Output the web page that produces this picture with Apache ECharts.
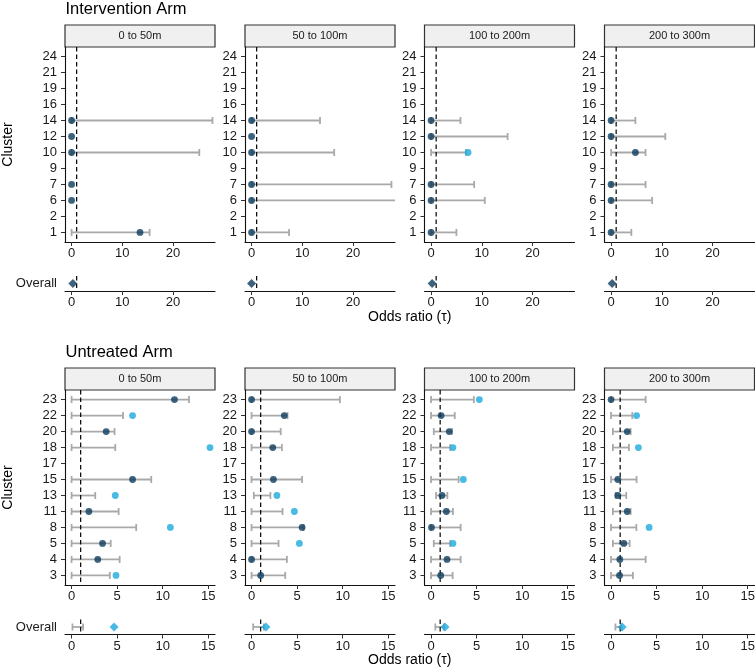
<!DOCTYPE html>
<html><head><meta charset="utf-8">
<script src="https://cdn.jsdelivr.net/npm/echarts@6/dist/echarts.min.js"></script>
<style>html,body{margin:0;padding:0;background:#fff}#c{width:755px;height:672px}</style>
</head><body><div id="c"></div>
<script>
// ---------- DATA ----------
const facetNames = ['0 to 50m', '50 to 100m', '100 to 200m', '200 to 300m'];
const xTicksInt = [0, 10, 20];
const xTicksUnt = [0, 5, 10, 15];
const refLine = 1;

// Intervention arm
const intClusters = ['24','21','19','16','14','12','10','9','7','6','2','1'];
const intEst0 = [null,null,null,null,0,0,0,null,0,0,null,13.5];
const intLo0  = [null,null,null,null,0,null,0,null,null,null,null,0];
const intHi0  = [null,null,null,null,27.8,null,25.2,null,null,null,null,15.4];
const intEst1 = [null,null,null,null,0,0,0,null,0,0,null,0];
const intLo1  = [null,null,null,null,0,null,0,null,0,0,null,0];
const intHi1  = [null,null,null,null,13.5,null,16.3,null,27.6,32,null,7.4];
const intEst2 = [null,null,null,null,0,0,7.3,null,0,0,null,0];
const intLo2  = [null,null,null,null,0,0,0,null,0,0,null,0];
const intHi2  = [null,null,null,null,5.8,15.1,6.9,null,8.5,10.6,null,5.0];
const intEst3 = [null,null,null,null,0,0,4.8,null,0,0,null,0];
const intLo3  = [null,null,null,null,0,0,0,null,0,0,null,0];
const intHi3  = [null,null,null,null,4.8,10.7,6.8,null,6.8,8.1,null,4.0];
const intOverallEst = [0.25, 0, 0.2, 0.2];
const intOverallLo  = [null, null, null, null];
const intOverallHi  = [null, null, null, null];

// Untreated arm
const untClusters = ['23','22','20','18','17','15','13','11','8','5','4','3'];
const untEst0 = [11.3,6.7,3.8,15.2,null,6.7,4.8,1.9,10.85,3.4,2.88,4.88];
const untLo0  = [0,0,0,0,null,0,0,0,0,0,0,0];
const untHi0  = [12.9,5.65,4.72,4.8,null,8.75,2.6,5.17,7.1,4.3,5.28,4.2];
const untEst1 = [0,3.6,0,2.33,null,2.4,2.78,4.7,5.55,5.25,0,1.0];
const untLo1  = [0,0,0,0,null,0,0.25,0,0,0,0,0];
const untHi1  = [9.7,3.95,3.2,3.33,null,5.55,2.07,3.4,5.7,2.96,3.88,3.7];
const untEst2 = [5.3,1.1,2.0,2.4,null,3.54,1.2,1.68,0.05,2.4,1.75,1.06];
const untLo2  = [0,0,0.3,0,null,0,0.55,0,0,0.3,0,0];
const untHi2  = [4.7,2.6,2.3,2.1,null,3.03,1.79,2.4,3.25,2.1,3.25,2.37];
const untEst3 = [0,2.8,1.78,3.0,null,0.74,0.74,1.78,4.18,1.4,0.96,0.93];
const untLo3  = [0,0,0.2,0.2,null,0,0.5,0.2,0,0.2,0,0];
const untHi3  = [3.8,2.33,2.15,1.96,null,2.8,1.67,2.15,2.78,2.04,3.8,2.4];
const untOverallEst = [4.67, 1.58, 1.53, 1.22];
const untOverallLo  = [0.1, 0.18, 0.47, 0.48];
const untOverallHi  = [1.27, 1.35, 1.4, 1.1];

// ---------- STYLE / LAYOUT ----------
const FONT = 'Liberation Sans';
const DARK = '#0b3b5c';
const LIGHT = '#1ba9dc';
const GRAY = '#a9a9a9';
const facetLeft = [65, 245, 424.5, 604.5];
const facetW = 150;

const arms = [
  {title: 'Intervention Arm', clusters: intClusters,
   est: [intEst0, intEst1, intEst2, intEst3], lo: [intLo0, intLo1, intLo2, intLo3], hi: [intHi0, intHi1, intHi2, intHi3],
   ovEst: intOverallEst, ovLo: intOverallLo, ovHi: intOverallHi, ticks: xTicksInt,
   xmin: -1.3, xmax: 28.3, titleY: 9.5, stripTop: 25, mainTop: 47, mainH: 195, ovTop: 276, ovH: 15, oddsY: 317},
  {title: 'Untreated Arm', clusters: untClusters,
   est: [untEst0, untEst1, untEst2, untEst3], lo: [untLo0, untLo1, untLo2, untLo3], hi: [untHi0, untHi1, untHi2, untHi3],
   ovEst: untOverallEst, ovLo: untOverallLo, ovHi: untOverallHi, ticks: xTicksUnt,
   xmin: -0.72, xmax: 15.75, titleY: 352, stripTop: 368, mainTop: 390, mainH: 195, ovTop: 619.5, ovH: 15, oddsY: 660}
];

function renderBar(params, api) {
  const lo = api.value(0), hi = api.value(1), y = api.value(2);
  const cs = params.coordSys;
  const p1 = api.coord([lo, y]), p2 = api.coord([hi, y]);
  const xl = cs.x, xr = cs.x + cs.width;
  const a = Math.max(p1[0], xl), b = Math.min(p2[0], xr);
  const st = {stroke: GRAY, lineWidth: 1.8};
  const ch = [{type: 'line', shape: {x1: a, y1: p1[1], x2: b, y2: p1[1]}, style: st}];
  if (p1[0] >= xl - 0.5) ch.push({type: 'line', shape: {x1: p1[0], y1: p1[1] - 3.5, x2: p1[0], y2: p1[1] + 3.5}, style: st});
  if (p2[0] <= xr + 0.5) ch.push({type: 'line', shape: {x1: p2[0], y1: p2[1] - 3.5, x2: p2[0], y2: p2[1] + 3.5}, style: st});
  return {type: 'group', children: ch};
}
function renderVLine(params, api) {
  const cs = params.coordSys;
  const p = api.coord([api.value(0), 0]);
  return {type: 'line', shape: {x1: p[0], y1: cs.y, x2: p[0], y2: cs.y + cs.height},
          style: {stroke: '#000', lineWidth: 1.2, lineDash: [4.5, 3]}};
}

const grid = [], xAxis = [], yAxis = [], series = [], graphic = [];

function addPanel(arm, f, isOverall) {
  const gi = grid.length;
  const top = isOverall ? arm.ovTop : arm.mainTop;
  const h = isOverall ? arm.ovH : arm.mainH;
  grid.push({left: facetLeft[f], top: top, width: facetW, height: h, containLabel: false, outerBoundsMode: 'none'});
  xAxis.push({
    type: 'value', gridIndex: gi, min: arm.xmin, max: arm.xmax,
    axisLine: {show: true, onZero: false, lineStyle: {color: '#111', width: 1.1}},
    axisTick: {show: true, customValues: arm.ticks, length: 4, lineStyle: {color: '#333'}},
    axisLabel: {customValues: arm.ticks, fontFamily: FONT, fontSize: 13, color: '#1a1a1a', margin: 5},
    splitLine: {show: false}
  });
  const n = arm.clusters.length;
  if (!isOverall) {
    const idx = arm.clusters.map((_, i) => i);
    yAxis.push({
      type: 'value', gridIndex: gi, min: -0.6, max: n - 1 + 0.6, inverse: true,
      axisLine: {show: true, onZero: false, lineStyle: {color: '#111', width: 1.1}},
      axisTick: {show: true, customValues: idx, length: 4, lineStyle: {color: '#333'}},
      axisLabel: {customValues: idx, formatter: v => arm.clusters[Math.round(v)] || '',
                  fontFamily: FONT, fontSize: 13, color: '#1a1a1a', margin: 8},
      splitLine: {show: false}
    });
  } else {
    yAxis.push({
      type: 'value', gridIndex: gi, min: -0.6, max: 0.6,
      axisLine: {show: false}, axisTick: {show: false},
      axisLabel: {show: f === 0, customValues: [0], formatter: () => 'Overall',
                  fontFamily: FONT, fontSize: 13, color: '#1a1a1a', margin: 8},
      splitLine: {show: false}
    });
  }
  const bars = [], pts = [];
  if (!isOverall) {
    const est = arm.est[f], lo = arm.lo[f], hi = arm.hi[f];
    for (let i = 0; i < n; i++) {
      if (lo[i] != null && hi[i] != null) bars.push([lo[i], hi[i], i]);
      if (est[i] != null) pts.push({value: [est[i], i],
        itemStyle: {color: (hi[i] != null && est[i] > hi[i]) ? LIGHT : DARK}});
    }
  } else {
    const e = arm.ovEst[f], lo = arm.ovLo[f], hi = arm.ovHi[f];
    if (lo != null && hi != null) bars.push([lo, hi, 0]);
    pts.push({value: [e, 0], itemStyle: {color: (hi != null && e > hi) ? LIGHT : DARK}});
  }
  series.push({type: 'custom', xAxisIndex: gi, yAxisIndex: gi, renderItem: renderBar,
               encode: {x: [0, 1], y: 2},
               data: bars, z: 2, silent: true, animation: false});
  series.push({type: 'custom', xAxisIndex: gi, yAxisIndex: gi, renderItem: renderVLine,
               data: [[refLine]], z: 3, silent: true, animation: false});
  series.push({type: 'scatter', xAxisIndex: gi, yAxisIndex: gi, data: pts,
               symbol: isOverall ? 'diamond' : 'circle', symbolSize: isOverall ? 9 : 6.8,
               z: 4, silent: true, animation: false});
}

arms.forEach(arm => {
  for (let f = 0; f < 4; f++) {
    addPanel(arm, f, false);
    addPanel(arm, f, true);
    graphic.push({type: 'rect', shape: {x: facetLeft[f], y: arm.stripTop, width: facetW, height: arm.mainTop - arm.stripTop},
                  style: {fill: '#f0f0f0', stroke: '#333', lineWidth: 1.2}, silent: true});
    graphic.push({type: 'text', x: facetLeft[f] + facetW / 2, y: (arm.stripTop + arm.mainTop) / 2,
                  style: {text: facetNames[f], fontFamily: FONT, fontSize: 11, fill: '#1a1a1a',
                          textAlign: 'center', textVerticalAlign: 'middle'}, silent: true});
  }
  graphic.push({type: 'text', x: 65.5, y: arm.titleY,
                style: {text: arm.title, fontFamily: FONT, fontSize: 16.5, fill: '#000',
                        textAlign: 'left', textVerticalAlign: 'middle'}, silent: true});
  graphic.push({type: 'text', x: 8, y: arm.mainTop + arm.mainH / 2, rotation: Math.PI / 2,
                style: {text: 'Cluster', fontFamily: FONT, fontSize: 14, fill: '#000',
                        textAlign: 'center', textVerticalAlign: 'middle'}, silent: true});
  graphic.push({type: 'text', x: (facetLeft[0] + facetLeft[3] + facetW) / 2, y: arm.oddsY,
                style: {text: 'Odds ratio (τ)', fontFamily: FONT, fontSize: 14, fill: '#000',
                        textAlign: 'center', textVerticalAlign: 'middle'}, silent: true});
});

const chart = echarts.init(document.getElementById('c'), null, {renderer: 'canvas'});
chart.setOption({backgroundColor: '#fff', animation: false, grid, xAxis, yAxis, series, graphic});
</script>
</body></html>
